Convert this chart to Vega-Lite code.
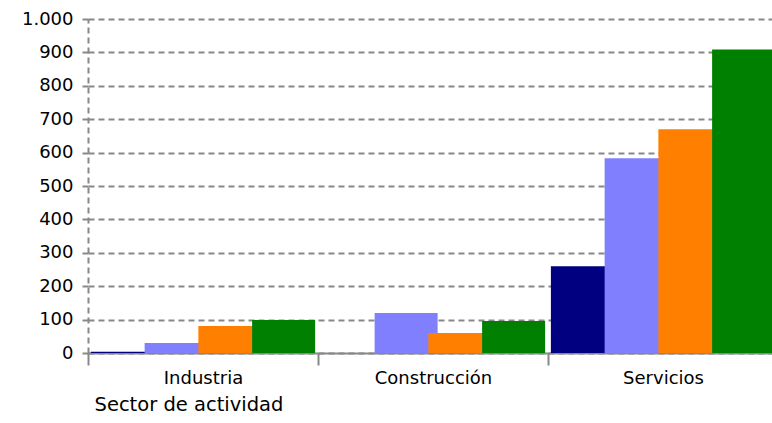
{
  "$schema": "https://vega.github.io/schema/vega-lite/v6.json",
  "width": 684,
  "height": 334,
  "autosize": {"type": "none"},
  "padding": {"left": 88, "top": 19, "right": 0, "bottom": 70},
  "background": "white",
  "data": {
    "values": [
      {"sector": "Industria", "serie": "Serie 1", "valor": 4},
      {"sector": "Industria", "serie": "Serie 2", "valor": 30},
      {"sector": "Industria", "serie": "Serie 3", "valor": 81},
      {"sector": "Industria", "serie": "Serie 4", "valor": 99},
      {"sector": "Construcción", "serie": "Serie 1", "valor": 0},
      {"sector": "Construcción", "serie": "Serie 2", "valor": 120},
      {"sector": "Construcción", "serie": "Serie 3", "valor": 60},
      {"sector": "Construcción", "serie": "Serie 4", "valor": 96},
      {"sector": "Servicios", "serie": "Serie 1", "valor": 260},
      {"sector": "Servicios", "serie": "Serie 2", "valor": 583},
      {"sector": "Servicios", "serie": "Serie 3", "valor": 670},
      {"sector": "Servicios", "serie": "Serie 4", "valor": 909}
    ]
  },
  "mark": {"type": "bar", "width": 63, "clip": true},
  "encoding": {
    "x": {
      "field": "sector",
      "type": "nominal",
      "sort": ["Industria", "Construcción", "Servicios"],
      "scale": {"range": [0, 690], "paddingInner": 0, "paddingOuter": 0},
      "axis": {
        "title": "Sector de actividad",
        "titleFont": "DejaVu Sans",
        "titleFontSize": 19.5,
        "titleFontWeight": "normal",
        "titleColor": "black",
        "titleAnchor": "start",
        "titleAlign": "left",
        "titleBaseline": "alphabetic",
        "titleX": 6,
        "titleY": 57,
        "labelFont": "DejaVu Sans",
        "labelFontSize": 18,
        "labelColor": "black",
        "labelAngle": 0,
        "labelPadding": 4,
        "tickBand": "extent",
        "tickSize": 12,
        "tickColor": "#888888",
        "tickWidth": 2,
        "domainColor": "#888888",
        "domainWidth": 2,
        "grid": false
      }
    },
    "xOffset": {
      "field": "serie",
      "type": "nominal",
      "scale": {"paddingInner": 0, "paddingOuter": 0.14}
    },
    "y": {
      "field": "valor",
      "type": "quantitative",
      "scale": {"domain": [0, 1000], "nice": false},
      "axis": {
        "title": null,
        "values": [0, 100, 200, 300, 400, 500, 600, 700, 800, 900, 1000],
        "labelExpr": "replace(format(datum.value, ','), ',', '.')",
        "labelFont": "DejaVu Sans",
        "labelFontSize": 18,
        "labelColor": "black",
        "labelPadding": 9,
        "tickSize": 6,
        "tickColor": "#888888",
        "tickWidth": 2,
        "domainColor": "#888888",
        "domainWidth": 2,
        "domainDash": [6, 4],
        "grid": true,
        "gridColor": "#888888",
        "gridWidth": 2,
        "gridDash": [6, 4]
      }
    },
    "color": {
      "field": "serie",
      "type": "nominal",
      "scale": {
        "domain": ["Serie 1", "Serie 2", "Serie 3", "Serie 4"],
        "range": ["#000080", "#8080ff", "#ff8000", "#008000"]
      },
      "legend": null
    }
  },
  "config": {"view": {"stroke": null}}
}
